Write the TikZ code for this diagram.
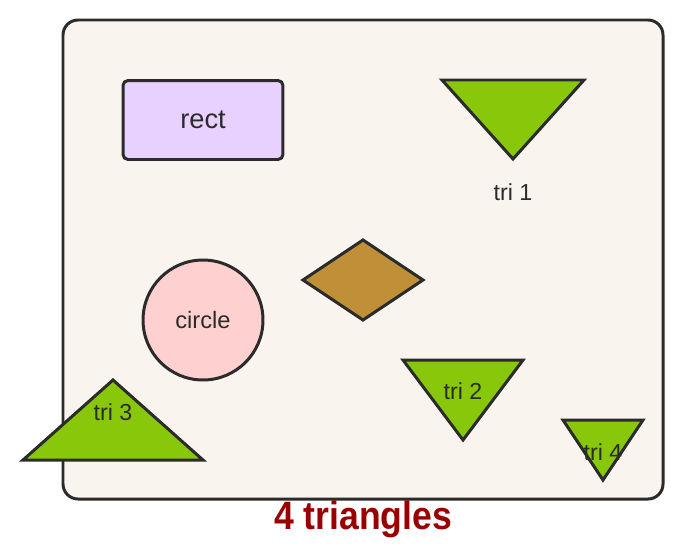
\documentclass[tikz,border=0pt]{standalone}
\usepackage{fontspec}
\setmainfont{Liberation Sans}
\usetikzlibrary{positioning}
\definecolor{ink}{HTML}{2B2B2B}
\definecolor{paper}{HTML}{F9F4EE}
\definecolor{trigreen}{HTML}{88C70A}
\definecolor{lilac}{HTML}{E8D0FF}
\definecolor{rose}{HTML}{FFD0D0}
\definecolor{ochre}{HTML}{BF9038}
\definecolor{darkred}{HTML}{990000}
\tikzset{
  % Specifications for style of shapes:
  base/.style = {
    draw=ink,
    line width=1.7pt,
    line join=miter
  },
  frame/.style = {
    base,
    fill=paper,
    rounded corners=0.3cm
  },
  tri/.style = {
    base,
    fill=trigreen
  },
  box/.style = {
    base,
    rectangle,
    rounded corners=0.1cm,
    fill=lilac,
    minimum width=3.2cm,
    minimum height=1.58cm,
    font=\fontsize{15.5}{18}\selectfont,
    text=ink
  },
  ball/.style = {
    base,
    circle,
    fill=rose,
    minimum size=2.4cm,
    inner sep=0pt,
    font=\fontsize{13.5}{16}\selectfont,
    text=ink
  },
  trilabel/.style = {
    font=\fontsize{13.2}{15}\selectfont,
    text=ink,
    inner sep=0pt
  },
  heading/.style = {
    font=\bfseries\fontsize{22.5}{26}\selectfont,
    text=darkred,
    inner sep=0pt,
    xscale=0.9,
    transform shape
  }
}

\begin{document}
\begin{tikzpicture}[x=0.02cm, y=-0.02cm]
  \useasboundingbox (0,0) rectangle (683,555);
  % Frame and title
  \draw[frame] (63,20) rectangle (663,499);
  \node[heading] (title) at (363,519) {4 triangles};
  % Rectangle and circle
  \node[box]  (rect)   at (203,120) {\raisebox{-1.5pt}{rect}};
  \node[ball] (circle) at (203,320) {\raisebox{-1pt}{circle}};
  % Diamond
  \draw[base, fill=ochre] (303,280) -- (363,240) -- (423,280) -- (363,320) -- cycle;
  % Triangles
  \draw[tri] (442,80) -- (584,80) -- (513,159) -- cycle;
  \draw[tri] (403,360) -- (523,360) -- (463,440) -- cycle;
  \draw[tri] (563,420) -- (643,420) -- (603,480) -- cycle;
  \draw[tri] (23,460) -- (113,380) -- (203,460) -- cycle;
  % Triangle labels
  \node[trilabel] (tri1) at (513,192) {tri 1};
  \node[trilabel] (tri2) at (463,391) {tri 2};
  \node[trilabel] (tri3) at (113,412) {tri 3};
  \node[trilabel] (tri4) at (603,452) {tri 4};
\end{tikzpicture}
\end{document}
